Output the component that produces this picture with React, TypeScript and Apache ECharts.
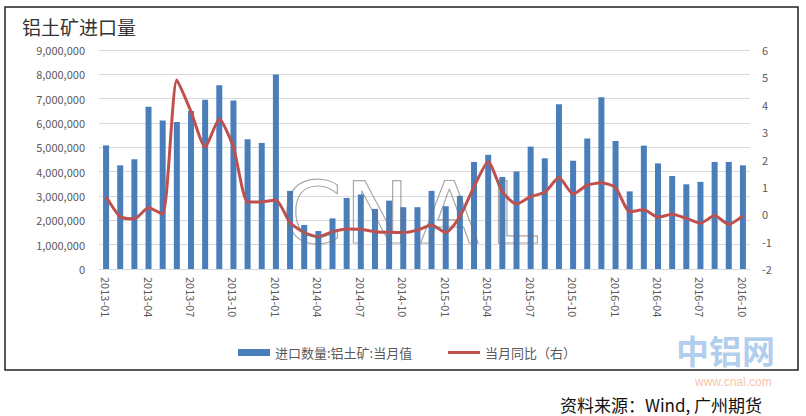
import React, { useEffect, useRef } from "react";
import * as echarts from "echarts";

const months = [
  "2013-01","2013-02","2013-03","2013-04","2013-05","2013-06","2013-07","2013-08","2013-09","2013-10","2013-11","2013-12",
  "2014-01","2014-02","2014-03","2014-04","2014-05","2014-06","2014-07","2014-08","2014-09","2014-10","2014-11","2014-12",
  "2015-01","2015-02","2015-03","2015-04","2015-05","2015-06","2015-07","2015-08","2015-09","2015-10","2015-11","2015-12",
  "2016-01","2016-02","2016-03","2016-04","2016-05","2016-06","2016-07","2016-08","2016-09","2016-10",
];

const importVolume = [
  5080000, 4260000, 4510000, 6670000, 6100000, 6040000, 6490000, 6960000, 7550000, 6920000, 5330000, 5180000,
  7990000, 3210000, 1810000, 1560000, 2080000, 2920000, 3060000, 2470000, 2810000, 2540000, 2540000, 3210000,
  2580000, 3010000, 4400000, 4690000, 3780000, 4010000, 5030000, 4550000, 6770000, 4450000, 5360000, 7060000,
  5260000, 3190000, 5070000, 4340000, 3820000, 3480000, 3580000, 4400000, 4400000, 4260000,
];

const yoyRatio = [
  0.64, -0.09, -0.17, 0.24, 0.0, 4.9, 3.75, 2.45, 3.48, 2.45, 0.45, 0.45,
  0.52, -0.31, -0.67, -0.82, -0.64, -0.54, -0.55, -0.64, -0.66, -0.67, -0.58, -0.39,
  -0.67, -0.09, 1.01, 1.92, 0.82, 0.37, 0.64, 0.8, 1.34, 0.74, 1.06, 1.15,
  0.98, 0.09, 0.16, -0.11, 0.0, -0.15, -0.33, -0.05, -0.37, -0.06,
];

const seriesNames = ["进口数量:铝土矿:当月值", "当月同比（右）"];
const titleText = "铝土矿进口量";
const sourceText = "资料来源：Wind, 广州期货";
const watermarkLetters = ["C", "N", "A", "L"];

export default function App() {
  const ref = useRef<HTMLDivElement>(null);
  useEffect(() => {
    if (!ref.current) return;
    const chart = echarts.init(ref.current, null, { renderer: "svg" });
    const font = "'Noto Sans CJK SC', 'Noto Sans', sans-serif";
    const wmX = [282, 345, 420, 490];
    chart.setOption({
      animation: false,
      backgroundColor: "#ffffff",
      textStyle: { fontFamily: font },
      grid: { left: 99, right: 56, top: 50, bottom: 147, containLabel: false },
      legend: [
        {
          data: [{ name: seriesNames[0], icon: "rect" }],
          left: 233,
          top: 341,
          itemWidth: 32,
          itemHeight: 7,
          itemGap: 4,
          textStyle: { fontSize: 13, color: "#595959", fontFamily: font },
        },
        {
          data: [{ name: seriesNames[1], icon: "rect" }],
          left: 443,
          top: 341,
          itemWidth: 32,
          itemHeight: 3,
          itemGap: 4,
          textStyle: { fontSize: 13, color: "#595959", fontFamily: font },
        },
      ],
      xAxis: {
        type: "category",
        data: months,
        axisLine: { lineStyle: { color: "#d9d9d9" } },
        axisTick: { show: false },
        axisLabel: {
          interval: 2,
          rotate: -90,
          fontSize: 11,
          color: "#595959",
          margin: 8,
        },
      },
      yAxis: [
        {
          type: "value",
          min: 0,
          max: 9000000,
          interval: 1000000,
          axisLine: { show: false },
          axisTick: { show: false },
          splitLine: { lineStyle: { color: "#d9d9d9" } },
          axisLabel: {
            fontSize: 11,
            color: "#595959",
            margin: 14,
            formatter: (v: number) => v.toLocaleString("en-US"),
          },
        },
        {
          type: "value",
          min: -2,
          max: 6,
          interval: 1,
          axisLine: { show: false },
          axisTick: { show: false },
          splitLine: { show: false },
          axisLabel: { fontSize: 11, color: "#595959", margin: 12 },
        },
      ],
      series: [
        {
          name: seriesNames[0],
          type: "bar",
          data: importVolume,
          barWidth: 6,
          itemStyle: { color: "#4a7ebb" },
          z: 2,
        },
        {
          name: seriesNames[1],
          type: "line",
          yAxisIndex: 1,
          data: yoyRatio,
          smooth: 0.2,
          symbol: "none",
          lineStyle: { color: "#c0504d", width: 3 },
          itemStyle: { color: "#c0504d" },
          z: 3,
        },
      ],
      graphic: [
        {
          type: "rect",
          shape: { x: 5, y: 7, width: 793, height: 363 },
          style: { fill: "none", stroke: "#222", lineWidth: 1.5 },
          silent: true,
          z: 0,
        },
        {
          type: "text",
          x: 22,
          y: 17,
          style: { text: titleText, fontSize: 19, fill: "#333", fontFamily: font },
        },
        ...watermarkLetters.map((ch, i) => ({
          type: "text",
          x: wmX[i],
          y: 170,
          z: 10,
          silent: true,
          style: {
            text: ch,
            fontSize: 86,
            fontFamily: "'DejaVu Sans', sans-serif",
            fill: "none",
            stroke: "rgba(110,110,110,0.6)",
            lineWidth: 1.2,
          },
        })),
        {
          type: "text",
          x: 676,
          y: 333,
          z: 10,
          style: {
            text: "中铝网",
            fontSize: 33,
            lineHeight: 33,
            fontWeight: "bold",
            fontFamily: "'Noto Sans CJK SC', sans-serif",
            fill: "rgba(110,165,220,0.55)",
          },
        },
        {
          type: "text",
          x: 695,
          y: 375,
          z: 10,
          style: {
            text: "www.cnal.com",
            fontSize: 12,
            lineHeight: 13,
            fontFamily: "'Liberation Sans', sans-serif",
            fill: "rgba(240,160,120,0.65)",
          },
        },
        {
          type: "text",
          x: 560,
          y: 395,
          style: { text: sourceText, fontSize: 17, lineHeight: 18, fill: "#111", fontFamily: font },
        },
      ],
    });
    return () => chart.dispose();
  }, []);
  return (
    <div
      ref={ref}
      style={{ position: "fixed", left: 0, top: 0, width: 806, height: 416 }}
    />
  );
}
